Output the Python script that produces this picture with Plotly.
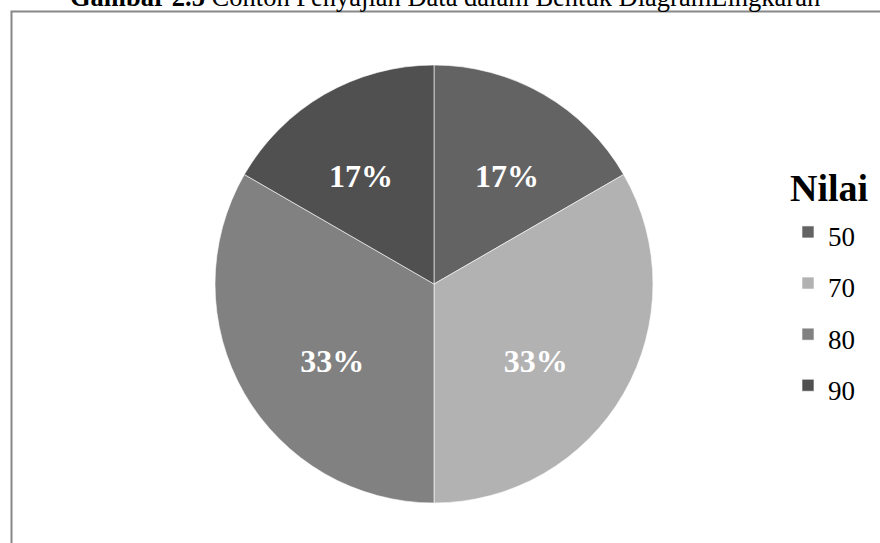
import plotly.graph_objects as go

# Data
labels = ["50", "70", "80", "90"]
counts = [1, 2, 2, 1]
colors = ["#636363", "#b2b2b2", "#818181", "#505050"]
legend_title = "Nilai"
caption_bold = "Gambar 2.5"
caption_rest = " Contoh Penyajian Data dalam Bentuk DiagramLingkaran"

W, H = 880, 543
FONT = "Liberation Serif, Times New Roman, serif"

def px_x(p):
    return p / W

def px_y(p):
    return 1 - p / H

legend_labels = [f"<span style='font-size:27px'>{v}</span>" for v in labels]
# a leading spacer line nudges the visible label lower inside each slice
label_template = "<span style='font-size:28px'>\u00a0</span><br>%{percent:.0%}"

fig = go.Figure(
    go.Pie(
        labels=legend_labels,
        values=counts,
        sort=False,
        direction="clockwise",
        rotation=0,
        marker=dict(colors=colors, line=dict(color="#ffffff", width=0.6)),
        texttemplate=label_template,
        textposition="inside",
        insidetextorientation="horizontal",
        textfont=dict(family=FONT, size=32, color="white", weight="bold"),
        hovertemplate="%{label}: %{value} (%{percent})<extra></extra>",
        domain=dict(x=[px_x(215), px_x(653)], y=[px_y(503), px_y(65)]),
    )
)

fig.update_layout(
    width=W,
    height=H,
    margin=dict(l=0, r=0, t=0, b=0),
    paper_bgcolor="white",
    plot_bgcolor="white",
    font=dict(family=FONT, color="black"),
    showlegend=True,
    legend=dict(
        title=dict(text=f"<b>{legend_title}</b>", font=dict(family=FONT, size=38, color="black")),
        font=dict(family=FONT, size=37, color="black"),
        x=px_x(788),
        xanchor="left",
        y=px_y(152),
        yanchor="top",
        bgcolor="rgba(0,0,0,0)",
        traceorder="normal",
    ),
    shapes=[
        dict(
            type="rect",
            xref="paper",
            yref="paper",
            x0=px_x(11.5),
            x1=1.05,
            y0=-0.05,
            y1=px_y(11.5),
            line=dict(color="#888888", width=2),
            fillcolor="rgba(0,0,0,0)",
            layer="below",
        )
    ],
    annotations=[
        dict(
            text=f"<b>{caption_bold}</b>{caption_rest}",
            xref="paper",
            yref="paper",
            x=px_x(445),
            y=px_y(14),
            xanchor="center",
            yanchor="bottom",
            showarrow=False,
            font=dict(family=FONT, size=26.5, color="black"),
        )
    ],
)

fig.write_html(
    "out.html",
    config={"displayModeBar": False},
    post_script="document.body.style.margin='0';document.documentElement.style.overflow='hidden';",
)
